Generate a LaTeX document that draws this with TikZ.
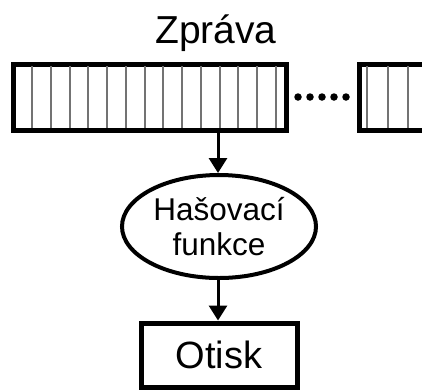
\documentclass[tikz,border=0pt]{standalone}
\usepackage{fontspec}
\setmainfont{Liberation Sans}
\usetikzlibrary{shapes.geometric,arrows.meta}
\tikzset{
  boxframe/.style={draw=black, line width=5pt, inner sep=0pt},
  cellline/.style={draw=black!55, line width=2pt},
  flowarrow/.style={draw=black, line width=3pt, -{Triangle[width=18pt 0 0,length=15pt 0 0]}},
  dotmark/.style={circle, fill=black, inner sep=0pt, minimum size=7.5pt},
  hashshape/.style={ellipse, draw=black, line width=4pt, inner sep=0pt,
    minimum width=194pt, minimum height=103pt, align=center,
    font=\fontsize{31.5}{35}\selectfont},
}
\begin{document}
\begin{tikzpicture}[x=1pt, y=-1pt]
\useasboundingbox (0,0) rectangle (422,389);
% title
\node[anchor=base, inner sep=0pt, font=\fontsize{39}{44}\selectfont] (title) at (216,43) {Zpráva};
% main message block
\node[boxframe, minimum width=273pt, minimum height=66pt] (msg) at (149.5,97) {};
\foreach \i in {0,...,13}{
  \draw[cellline] ({32+18.77*\i},66) -- ({32+18.77*\i},128);
}
% continuation block (cut at right edge)
\node[boxframe, minimum width=90pt, minimum height=66pt] (msgb) at (404,97) {};
\foreach \xx in {367,388,408}{
  \draw[cellline] (\xx,66) -- (\xx,128);
}
% dots
\foreach \xx [count=\k] in {298,310,322,334,346}{
  \node[dotmark] (d\k) at (\xx,97) {};
}
% hash function
\node[hashshape] (hash) at (219,226.5) {Hašovací\\funkce};
% fingerprint
\node[boxframe, minimum width=156pt, minimum height=64pt, font=\fontsize{38}{42}\selectfont] (otisk) at (219,355) {Otisk};
% arrows
\coordinate (a1) at ([xshift=-1pt]hash.north |- msg.south);
\draw[flowarrow] (a1) -- ([xshift=-1pt]hash.north);
\draw[flowarrow] ([xshift=-1pt]hash.south) -- ([xshift=-1pt]hash.south |- otisk.north);
\end{tikzpicture}
\end{document}
